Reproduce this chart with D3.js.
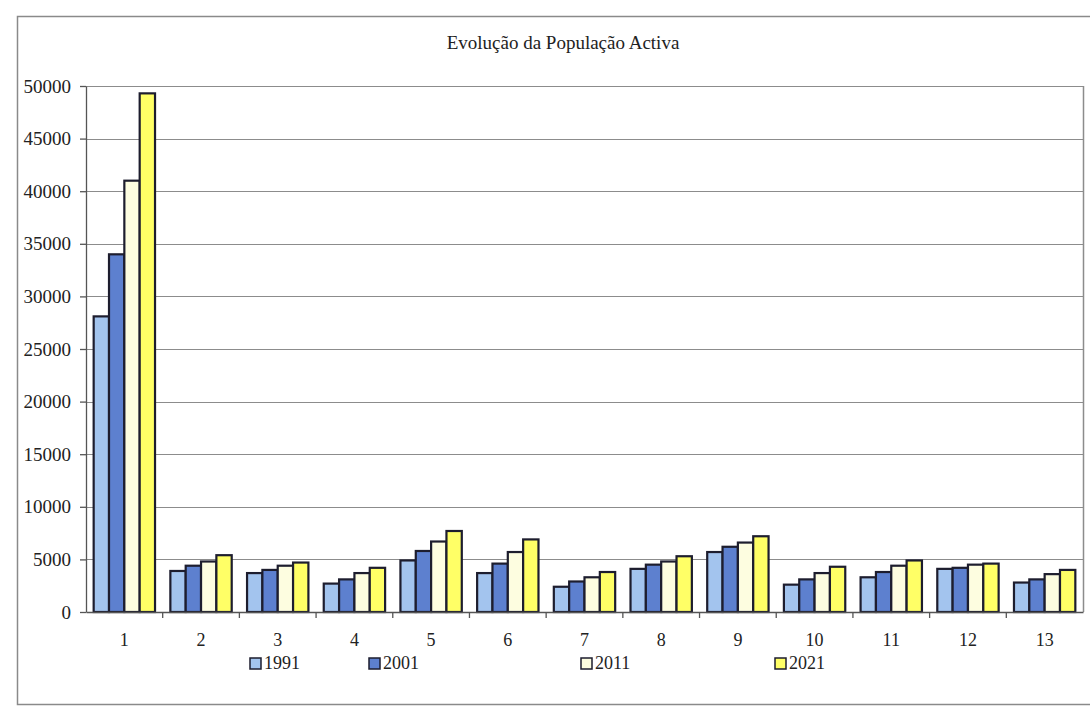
<!DOCTYPE html>
<html>
<head>
<meta charset="utf-8">
<script src="https://cdn.jsdelivr.net/npm/d3@7"></script>
<style>
  body { margin: 0; background: #fff; }
</style>
</head>
<body>
<div id="chart"></div>
<script>
// chart data
var categories = ["1","2","3","4","5","6","7","8","9","10","11","12","13"];
var years = ["1991","2001","2011","2021"];
var v1991 = [28100, 3900, 3700, 2700, 4900, 3700, 2400, 4100, 5700, 2600, 3300, 4100, 2800];
var v2001 = [34000, 4400, 4000, 3100, 5800, 4600, 2900, 4500, 6200, 3100, 3800, 4200, 3100];
var v2011 = [41000, 4800, 4400, 3700, 6700, 5700, 3300, 4800, 6600, 3700, 4400, 4500, 3600];
var v2021 = [49300, 5400, 4700, 4200, 7700, 6900, 3800, 5300, 7200, 4300, 4900, 4600, 4000];
var yTicks = [0, 5000, 10000, 15000, 20000, 25000, 30000, 35000, 40000, 45000, 50000];
var title = "Evolução da População Activa";

var seriesValues = [v1991, v2001, v2011, v2021];
var colors = ["#a3c4ee", "#5d80cf", "#fdfde0", "#ffff66"];

var W = 1090, H = 708;
var plot = {left: 86, right: 1083, top: 86, bottom: 612};
var serif = "'Liberation Serif', 'DejaVu Serif', 'Times New Roman', serif";

var svg = d3.select("#chart").append("svg")
    .attr("width", W)
    .attr("height", H)
    .attr("font-family", serif);

// outer frame of the chart
svg.append("rect")
    .attr("x", 17.5).attr("y", 16.5)
    .attr("width", W + 10).attr("height", 688)
    .attr("fill", "none")
    .attr("stroke", "#8a8a8a")
    .attr("stroke-width", 1.5);

var x0 = d3.scaleBand()
    .domain(categories)
    .range([plot.left, plot.right]);

var x1 = d3.scaleBand()
    .domain(years)
    .range([0, x0.bandwidth()])
    .paddingOuter(0.5);   // gap width 100% like excel

var y = d3.scaleLinear()
    .domain([0, 50000])
    .range([plot.bottom, plot.top]);

// gridlines
svg.append("g")
    .selectAll("line")
    .data(yTicks.slice(1))
    .enter()
    .append("line")
    .attr("x1", plot.left).attr("x2", plot.right)
    .attr("y1", d => Math.round(y(d)) + 0.5)
    .attr("y2", d => Math.round(y(d)) + 0.5)
    .attr("stroke", "#8c8c8c")
    .attr("stroke-width", 1.2);

// right border of plot area
svg.append("line")
    .attr("x1", plot.right + 0.5).attr("x2", plot.right + 0.5)
    .attr("y1", plot.top).attr("y2", plot.bottom)
    .attr("stroke", "#8c8c8c")
    .attr("stroke-width", 1.5);

// bars
var groups = svg.append("g")
    .selectAll("g")
    .data(categories)
    .enter()
    .append("g")
    .attr("transform", d => "translate(" + x0(d) + ",0)");

groups.selectAll("rect")
    .data((c, i) => years.map((yr, j) => ({year: yr, value: seriesValues[j][i], color: colors[j]})))
    .enter()
    .append("rect")
    .attr("x", d => x1(d.year))
    .attr("y", d => y(d.value))
    .attr("width", x1.bandwidth())
    .attr("height", d => y(0) - y(d.value))
    .attr("fill", d => d.color)
    .attr("stroke", "#1d1d2e")
    .attr("stroke-width", 2.2);

// y axis
var yAxis = svg.append("g")
    .attr("transform", "translate(" + plot.left + ",0)")
    .call(d3.axisLeft(y).tickValues(yTicks).tickFormat(d3.format("d"))
        .tickSize(6).tickPadding(9).tickSizeOuter(0));
yAxis.attr("font-family", serif).attr("font-size", 19);
yAxis.selectAll("text").attr("fill", "#222");
yAxis.selectAll("line, path").attr("stroke", "#555").attr("stroke-width", 1.3);

// x axis
var xAxis = svg.append("g")
    .attr("transform", "translate(0," + plot.bottom + ")")
    .call(d3.axisBottom(x0).tickSize(0).tickPadding(21));
xAxis.attr("font-family", serif).attr("font-size", 18);
xAxis.selectAll("text").attr("fill", "#222");
xAxis.select("path").attr("stroke", "#555").attr("stroke-width", 1.3);
// category separators
svg.append("g")
    .selectAll("line")
    .data(categories.slice(1))
    .enter()
    .append("line")
    .attr("x1", d => x0(d)).attr("x2", d => x0(d))
    .attr("y1", plot.bottom).attr("y2", plot.bottom + 6)
    .attr("stroke", "#555")
    .attr("stroke-width", 1.3);

// title
svg.append("text")
    .attr("x", 563).attr("y", 49)
    .attr("text-anchor", "middle")
    .attr("font-size", 19)
    .attr("fill", "#222")
    .text(title);

// legend
var legendX = [250, 369, 581, 775];
var legend = svg.append("g")
    .selectAll("g")
    .data(years)
    .enter()
    .append("g")
    .attr("transform", (d, i) => "translate(" + legendX[i] + ",658)");
legend.append("rect")
    .attr("width", 11).attr("height", 11)
    .attr("fill", (d, i) => colors[i])
    .attr("stroke", "#1d1d2e")
    .attr("stroke-width", 1.5);
legend.append("text")
    .attr("x", 14).attr("y", 11)
    .attr("font-size", 18)
    .attr("fill", "#222")
    .text(d => d);
</script>
</body>
</html>
